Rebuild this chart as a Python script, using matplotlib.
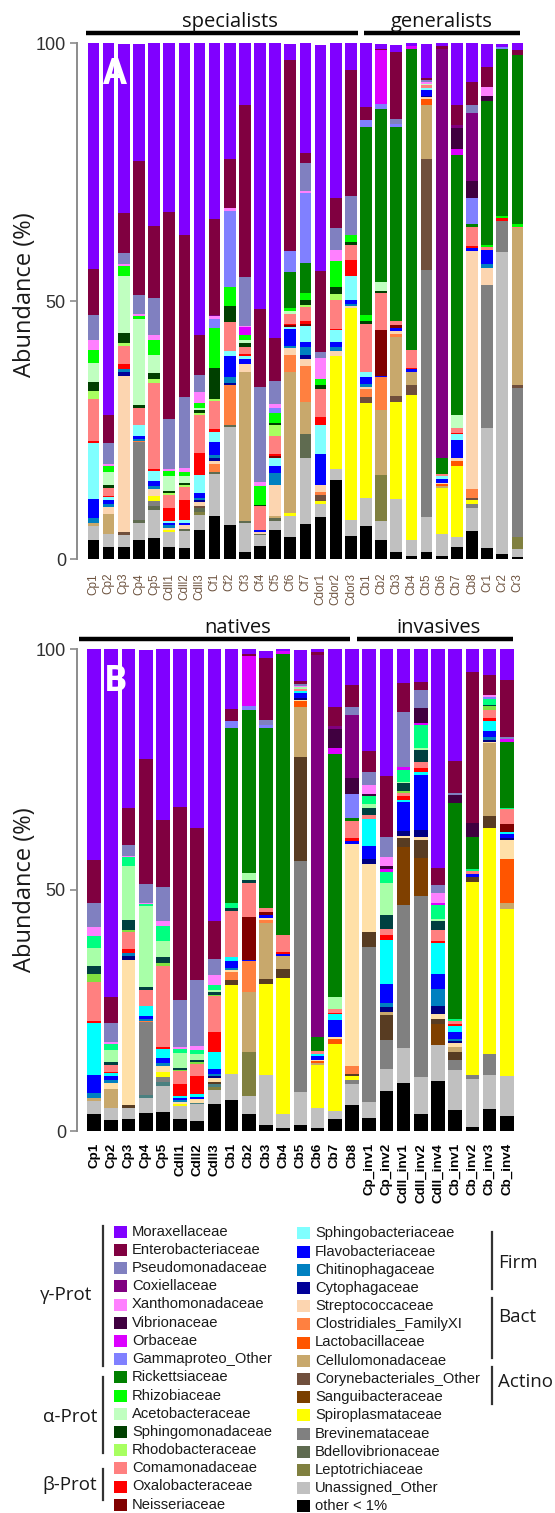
import matplotlib
matplotlib.use('Agg')
import matplotlib.pyplot as plt
from matplotlib.patches import Rectangle
from matplotlib.lines import Line2D

W, H = 555, 1513

families = [
    'Moraxellaceae', 'Enterobacteriaceae', 'Pseudomonadaceae', 'Coxiellaceae',
    'Xanthomonadaceae', 'Vibrionaceae', 'Orbaceae', 'Gammaproteo_Other',
    'Rickettsiaceae', 'Rhizobiaceae', 'Acetobacteraceae', 'Sphingomonadaceae',
    'Rhodobacteraceae', 'Comamonadaceae', 'Oxalobacteraceae', 'Neisseriaceae',
    'Sphingobacteriaceae', 'Flavobacteriaceae', 'Chitinophagaceae', 'Cytophagaceae',
    'Streptococcaceae', 'Clostridiales_FamilyXI', 'Lactobacillaceae', 'Cellulomonadaceae',
    'Corynebacteriales_Other', 'Sanguibacteraceae', 'Spiroplasmataceae', 'Brevinemataceae',
    'Bdellovibrionaceae', 'Leptotrichiaceae', 'Unassigned_Other', 'other < 1%',
]
codes = ['mor', 'ent', 'pse', 'cox', 'xan', 'vib', 'orb', 'gam',
         'ric', 'rhi', 'ace', 'sph', 'rho', 'com', 'oxa', 'nei',
         'sbc', 'fla', 'chi', 'cyt', 'stp', 'clo', 'lac', 'cel',
         'cor', 'san', 'spi', 'bre', 'bde', 'lep', 'una', 'oth']
colors = ['#8000ff', '#800040', '#8080c0', '#800080', '#ff80ff', '#400040', '#dc00ff', '#8080ff',
          '#008000', '#00ff00', '#c0ffc0', '#004000', '#a8ff60', '#ff8080', '#ff0000', '#800000',
          '#80ffff', '#0000ff', '#0080c0', '#000099', '#fcd5b0', '#ff8040', '#ff5500', '#c8a86c',
          '#704f3c', '#7a3f00', '#ffff00', '#808080', '#5f6b50', '#808040', '#c0c0c0', '#000000']

# panel B was exported with a slightly different palette
colors_b = dict(zip(codes, colors))
colors_b.update(rhi='#00ff80', ace='#a8ffa8', sph='#004040', rho='#80e040', sbc='#00ffff',
                cyt='#000080', stp='#ffe0a8', cor='#583c22', san='#7f4000', bde='#4a8080')

# relative abundance (%) per sample
cp1 = dict(mor=43.9, ent=9.0, pse=4.8, xan=1.9, rhi=2.5, ace=3.7, sph=1.7, rho=1.6, com=8.1, oxa=0.5,
           sbc=10.8, fla=3.7, chi=1.0, cel=0.6, una=2.7, oth=3.6)
cp2 = dict(mor=72.1, ent=5.4, pse=4.0, xan=0.4, rhi=1.2, ace=2.6, sph=0.6, com=1.4, oxa=0.3, sbc=0.6,
           fla=0.8, chi=0.6, stp=1.3, cel=3.9, una=2.5, oth=2.3)
cp3 = dict(mor=32.9, ent=7.7, pse=2.2, xan=0.3, rhi=1.9, ace=11.1, sph=2.0, rho=0.6, com=3.5, oxa=0.8,
           chi=0.6, cyt=0.8, stp=30.2, cor=0.6, una=2.3, oth=2.4)
cp4 = dict(mor=22.7, ent=25.9, pse=3.8, xan=0.3, rhi=0.5, ace=16.8, sph=0.5, com=3.4, sbc=2.1, fla=0.6,
           chi=0.3, clo=0.3, bre=15.1, bde=0.6, una=3.2, oth=3.7)
cp5 = dict(mor=35.5, ent=13.9, pse=7.1, xan=1.0, rhi=3.0, ace=3.4, sph=1.2, rho=0.7, com=16.8, oxa=0.4,
           sbc=1.9, fla=1.0, chi=0.6, stp=1.2, spi=1.1, bre=1.0, bde=0.8, una=5.4, oth=4.0)
cdl1 = dict(mor=32.7, ent=40.2, pse=9.7, xan=0.4, rhi=0.9, ace=3.0, sph=0.4, rho=0.3, com=2.6, oxa=2.5,
            sbc=0.4, fla=0.4, chi=0.4, stp=0.5, spi=0.4, una=2.8, oth=2.4)
cdl2 = dict(mor=37.2, ent=31.5, pse=13.7, xan=0.8, rhi=0.8, ace=1.3, sph=0.4, rho=0.3, com=2.6, oxa=3.8,
            sbc=0.6, fla=0.4, stp=0.8, bde=0.3, una=3.4, oth=2.1)
cdl3 = dict(mor=56.5, ent=7.8, pse=3.3, xan=2.1, rhi=1.1, ace=0.3, sph=0.6, rho=0.3, com=7.4, oxa=4.3,
            sbc=3.5, fla=1.0, chi=0.4, cyt=0.4, stp=0.8, cor=0.4, bde=0.6, lep=0.6, una=2.9, oth=5.7)
cf1 = dict(mor=34.2, ent=18.5, cox=0.3, xan=0.4, gam=1.8, rhi=7.7, sph=6.0, rho=0.4, com=5.6, oxa=0.4,
           sbc=2.1, fla=2.5, chi=0.6, cyt=0.5, stp=0.5, clo=1.6, bde=0.4, una=8.2, oth=8.3)
cf2 = dict(mor=22.5, ent=9.5, xan=0.6, gam=14.6, rhi=3.7, sph=3.1, com=5.6, sbc=1.1, fla=4.1, chi=1.0,
           cyt=0.4, clo=7.9, bde=0.4, una=18.9, oth=6.6)
cf3 = dict(mor=12.0, ent=33.3, pse=9.5, orb=1.5, xan=0.3, rhi=1.0, ace=0.6, sph=0.8, com=1.3, oxa=0.3,
           sbc=0.6, fla=1.0, stp=1.5, cel=28.9, bde=0.5, una=5.6, oth=1.3)
cf4 = dict(mor=51.6, ent=15.0, pse=18.4, xan=0.8, rhi=3.7, sph=0.3, com=4.6, fla=0.3, stp=0.5,
           bde=0.2, una=2.1, oth=2.5)
cf5 = dict(mor=57.2, ent=8.4, pse=4.4, xan=0.8, gam=1.0, rhi=1.9, sph=0.3, rho=2.1, com=3.5, oxa=0.4,
           nei=0.4, sbc=1.6, fla=1.3, chi=2.3, stp=6.0, cel=0.5, bde=0.5, una=1.7, oth=5.7)
cf6 = dict(mor=3.0, ent=37.1, gam=4.0, ric=7.1, rhi=0.6, ace=0.5, com=1.9, oxa=0.3, nei=0.3, sbc=0.5,
           fla=3.2, chi=0.5, stp=1.3, clo=3.2, cel=27.3, spi=0.7, una=4.1, oth=4.2)
cf7 = dict(mor=21.3, ent=1.9, pse=5.5, xan=0.4, gam=13.6, ric=5.8, rhi=1.4, sph=0.8, rho=0.5, com=2.6,
           oxa=0.6, nei=0.5, sbc=3.0, fla=1.1, chi=1.5, cyt=0.8, stp=1.3, clo=7.0, cel=6.1, bde=4.8,
           una=12.7, oth=6.8)
cdor1 = dict(mor=43.7, ent=15.7, pse=1.3, xan=4.1, rhi=1.0, sph=0.9, com=5.4, oxa=1.5, sbc=5.6, fla=6.0,
             stp=1.4, clo=0.5, cor=1.3, spi=0.5, una=2.6, oth=8.1)
cdor2 = dict(mor=30.1, ent=5.8, pse=4.3, xan=2.1, rhi=5.0, sph=1.5, rho=1.1, com=5.6, oxa=0.3, sbc=2.3,
             fla=1.0, chi=0.6, stp=1.0, spi=21.9, una=2.1, oth=15.4)
cdor3 = dict(mor=5.2, ent=24.4, pse=7.6, rhi=1.3, sph=0.6, com=2.9, oxa=3.1, sbc=4.7, fla=0.8, chi=0.3,
             stp=0.5, spi=41.1, una=3.0, oth=4.5)
cb1 = dict(mor=12.7, ent=2.6, gam=1.3, ric=36.5, rhi=1.0, sph=0.6, com=9.4, sbc=1.0, fla=1.3, chi=0.5,
           stp=0.4, clo=1.6, cor=1.2, spi=18.4, una=5.4, oth=6.4)
cb2 = dict(mor=1.0, ent=0.3, orb=10.5, gam=0.8, ric=33.7, ace=1.6, sph=0.5, com=7.1, nei=8.9, fla=0.3,
           clo=6.3, cel=12.6, lep=9.0, una=3.7, oth=3.6)
cb3 = dict(mor=1.4, ent=12.9, pse=1.0, gam=0.6, ric=37.5, com=0.8, nei=0.6, fla=0.6, stp=0.5, clo=0.6,
           cel=11.6, cor=1.0, spi=18.9, una=10.3, oth=1.3)
cb4 = dict(mor=0.5, orb=0.6, ric=58.3, com=3.5, oxa=0.3, fla=0.5, cel=2.6, cor=1.9, spi=28.2, una=3.0,
           oth=0.6)
cb5 = dict(mor=6.5, ent=0.5, pse=0.4, xan=0.3, ace=0.3, com=0.5, sbc=0.4, fla=1.1, cyt=0.3, stp=0.3,
           lac=1.3, cel=10.3, cor=21.6, bre=47.9, una=6.8, oth=1.3)
cb6 = dict(mor=0.6, ent=0.6, cox=79.3, ric=3.0, com=0.5, sbc=0.4, fla=0.8, stp=0.3, lac=0.4, cel=0.4,
           spi=8.9, una=4.2, oth=0.6)
cb7 = dict(mor=12.0, ent=3.9, cox=0.6, vib=4.1, orb=1.1, ric=50.4, ace=2.6, com=0.8, oxa=0.3, sbc=1.1,
           fla=3.6, stp=0.5, lac=1.0, spi=13.8, una=1.8, oth=2.4)
cb8 = dict(mor=7.5, ent=4.5, pse=1.6, cox=13.2, vib=3.2, gam=5.0, ric=0.6, com=3.7, oxa=0.5, fla=0.6,
           stp=46.1, clo=1.6, cor=0.4, spi=0.9, bre=0.8, una=4.4, oth=5.4)
cr1 = dict(mor=4.6, ent=3.9, xan=1.6, vib=1.0, ric=27.9, rhi=0.5, com=0.5, fla=2.8, chi=0.8, stp=3.2,
           bre=27.8, una=23.2, oth=2.1)
cr2 = dict(mor=0.6, gam=0.4, ric=32.5, rhi=0.3, oxa=0.5, bre=6.2, una=58.4, oth=1.0)
cr3 = dict(mor=1.3, ent=1.0, ric=32.8, rhi=0.5, com=0.3, cel=30.4, cor=0.6, bre=28.8, lep=2.4, una=1.6,
           oth=0.3)
cp_inv1 = dict(mor=21.2, ent=4.5, pse=2.6, xan=1.9, vib=0.5, rhi=1.5, ace=0.9, sph=1.5, com=0.8,
               sbc=5.5, fla=2.8, cyt=1.0, stp=14.2, cor=3.0, bre=32.1, una=3.5, oth=2.6)
cp_inv2 = dict(mor=26.3, ent=12.7, pse=4.1, xan=1.9, vib=0.7, orb=0.5, rhi=2.4, ace=6.6, sph=2.8,
               com=1.4, oxa=1.0, sbc=9.0, fla=4.1, chi=0.7, cyt=1.2, cel=0.5, cor=5.3, bre=5.9,
               una=4.5, oth=8.4)
cdl_inv1 = dict(mor=7.1, ent=5.9, pse=11.4, orb=0.7, rhi=2.4, ace=0.4, sph=1.6, rho=0.3, com=0.8,
                oxa=0.7, sbc=0.5, fla=6.0, cyt=1.0, stp=0.5, cor=1.7, san=12.2, bre=29.6, una=7.3,
                oth=9.9)
cdl_inv2 = dict(mor=6.8, ent=1.7, pse=3.8, vib=3.0, orb=0.4, rhi=4.8, ace=0.4, sph=2.6, com=1.2,
                oxa=0.9, sbc=0.5, fla=11.5, cyt=1.4, stp=0.7, cor=3.7, san=7.8, bre=37.5, una=7.8,
                oth=3.5)
cdl_inv4 = dict(mor=45.5, ent=3.5, pse=1.7, xan=2.1, orb=0.3, rhi=2.9, ace=0.5, sph=1.8, com=2.2,
                oxa=0.5, sbc=6.5, fla=3.0, chi=3.5, cyt=1.7, stp=1.0, cor=1.0, san=4.5, una=7.4,
                oth=10.4)
cb_inv1 = dict(mor=23.2, ent=6.6, pse=0.5, vib=1.6, ric=44.9, rhi=0.4, com=0.7, oxa=0.3, sbc=1.2,
               fla=1.6, chi=0.3, cyt=0.4, stp=0.8, cel=1.2, cor=1.5, bre=2.1, una=8.3, oth=4.4)
cb_inv2 = dict(mor=4.7, ent=31.5, vib=2.8, ric=6.6, rhi=0.5, com=0.5, fla=0.7, cor=1.0, spi=40.1,
               bre=0.8, una=9.9, oth=0.9)
cb_inv3 = dict(mor=5.4, ent=4.1, xan=0.5, gam=0.4, rhi=1.2, sph=0.3, rho=0.7, com=1.7, oxa=0.6,
               sbc=2.2, fla=1.2, chi=0.5, cyt=0.5, stp=0.3, cel=15.0, cor=2.6, spi=46.8, bre=4.4,
               una=7.1, oth=4.5)
cb_inv4 = dict(mor=6.4, ent=11.8, pse=0.5, orb=0.5, ric=13.7, rhi=0.3, com=3.1, nei=1.7, sbc=0.4,
               fla=0.8, cyt=0.5, stp=3.9, lac=9.0, cel=1.4, spi=34.5, una=8.4, oth=3.1)

labels_a = ['Cp1', 'Cp2', 'Cp3', 'Cp4', 'Cp5', 'Cdll1', 'Cdll2', 'Cdll3',
            'Cf1', 'Cf2', 'Cf3', 'Cf4', 'Cf5', 'Cf6', 'Cf7', 'Cdor1', 'Cdor2', 'Cdor3',
            'Cb1', 'Cb2', 'Cb3', 'Cb4', 'Cb5', 'Cb6', 'Cb7', 'Cb8', 'Cr1', 'Cr2', 'Cr3']
samples_a = [cp1, cp2, cp3, cp4, cp5, cdl1, cdl2, cdl3,
             cf1, cf2, cf3, cf4, cf5, cf6, cf7, cdor1, cdor2, cdor3,
             cb1, cb2, cb3, cb4, cb5, cb6, cb7, cb8, cr1, cr2, cr3]
labels_b = ['Cp1', 'Cp2', 'Cp3', 'Cp4', 'Cp5', 'Cdll1', 'Cdll2', 'Cdll3',
            'Cb1', 'Cb2', 'Cb3', 'Cb4', 'Cb5', 'Cb6', 'Cb7', 'Cb8',
            'Cp_inv1', 'Cp_inv2', 'Cdll_inv1', 'Cdll_inv2', 'Cdll_inv4',
            'Cb_inv1', 'Cb_inv2', 'Cb_inv3', 'Cb_inv4']
samples_b = [cp1, cp2, cp3, cp4, cp5, cdl1, cdl2, cdl3,
             cb1, cb2, cb3, cb4, cb5, cb6, cb7, cb8,
             cp_inv1, cp_inv2, cdl_inv1, cdl_inv2, cdl_inv4,
             cb_inv1, cb_inv2, cb_inv3, cb_inv4]

SANS = ['Liberation Sans', 'DejaVu Sans']
CAL = ['Open Sans', 'DejaVu Sans']


def fx(px):
    return px / W


def fy(py):
    return 1 - py / H


def stacked(ax, samples, palette, width):
    x = list(range(len(samples)))
    bottom = [0.0] * len(samples)
    # other < 1% sits at the bottom, Moraxellaceae on top
    for code in reversed(codes):
        vals = [s.get(code, 0.0) for s in samples]
        ax.bar(x, vals, width=width, bottom=bottom, color=palette[code], linewidth=0)
        bottom = [b + v for b, v in zip(bottom, vals)]


def style_axis(ax, labels, lab_size, lab_color, lab_weight, pad):
    ax.set_ylim(0, 100)
    ax.set_yticks([0, 50, 100])
    ax.set_xticks(range(len(labels)))
    ax.set_xticklabels(labels, rotation=90, fontsize=lab_size, color=lab_color,
                       fontweight=lab_weight, family=SANS, va='top')
    for s in ['top', 'right', 'bottom']:
        ax.spines[s].set_visible(False)
    ax.spines['left'].set_color('#8c8c8c')
    ax.spines['left'].set_linewidth(1.4)
    ax.tick_params(axis='x', length=0, pad=pad)
    ax.tick_params(axis='y', length=5, width=1.2, color='#8c8c8c', pad=3, labelsize=13,
                   labelcolor='#303030')
    for t in ax.get_yticklabels():
        t.set_family(SANS)


fig = plt.figure(figsize=(W / 100, H / 100), dpi=100)

# panel A
pal_a = dict(zip(codes, colors))
ax_a = fig.add_axes([fx(77), fy(559), (530 - 77) / W, (559 - 43) / H])
stacked(ax_a, samples_a, pal_a, 0.77)
ax_a.set_xlim(-1.09, 28.83)
style_axis(ax_a, labels_a, 8.5, '#6e5440', 'normal', 10)

# panel B
ax_b = fig.add_axes([fx(77), fy(1131), (524 - 77) / W, (1131 - 649) / H])
stacked(ax_b, samples_b, colors_b, 0.8)
ax_b.set_xlim(-0.99, 25.0)
style_axis(ax_b, labels_b, 9.6, 'black', 'bold', 8.5)

for ycen in (295, 890):
    fig.text(fx(25), fy(ycen), 'Abundance (%)', rotation=90, fontsize=17, family=CAL,
             ha='center', va='center', color='#1a1a1a')

fig.text(fx(115), fy(75), 'A', fontsize=25, fontweight='bold', color='white', family=CAL,
         ha='center', va='center')
fig.text(fx(116), fy(682), 'B', fontsize=25, fontweight='bold', color='white', family=CAL,
         ha='center', va='center')

# group headers
headers = [('specialists', 86, 358, 33, 230), ('generalists', 364, 520, 33, 442),
           ('natives', 79, 350, 639, 238), ('invasives', 357, 513, 639, 439)]
for txt, x0, x1, yl, xc in headers:
    fig.add_artist(Line2D([fx(x0), fx(x1)], [fy(yl), fy(yl)], color='black', lw=3.2,
                          transform=fig.transFigure, solid_capstyle='butt'))
    fig.text(fx(xc), fy(yl - 6.5), txt, fontsize=14.5, family=CAL, ha='center',
             va='baseline', color='#111111')

# legend
for i in range(32):
    if i < 16:
        sx, tx, yc = 114, 132, 1231.7 + i * 18.2
    else:
        sx, tx, yc = 297, 315, 1233.3 + (i - 16) * 18.2
    fig.add_artist(Rectangle((fx(sx), fy(yc + 6)), 13 / W, 12 / H, facecolor=colors[i],
                             edgecolor='none', transform=fig.transFigure))
    fig.text(fx(tx), fy(yc), families[i], fontsize=10.6, family=SANS, ha='left', va='center',
             color='#1a1a1a')

brackets = [('γ-Prot', 103, 1226, 1366, 92, 1295, 'right'),
            ('α-Prot', 103, 1377, 1453, 97, 1417, 'right'),
            ('β-Prot', 103, 1469, 1500, 97, 1485, 'right'),
            ('Firm', 492, 1232, 1289, 498, 1263, 'left'),
            ('Bact', 492, 1298, 1358, 498, 1317, 'left'),
            ('Actino', 492, 1367, 1404, 498, 1382, 'left')]
for txt, lx, y0, y1, tx, ty, ha in brackets:
    fig.add_artist(Line2D([fx(lx), fx(lx)], [fy(y0), fy(y1)], color='#333333', lw=1.6,
                          transform=fig.transFigure))
    fig.text(fx(tx), fy(ty), txt, fontsize=13.5, family=CAL, ha=ha, va='center', color='#1a1a1a')

fig.savefig('out.png', dpi=100)
